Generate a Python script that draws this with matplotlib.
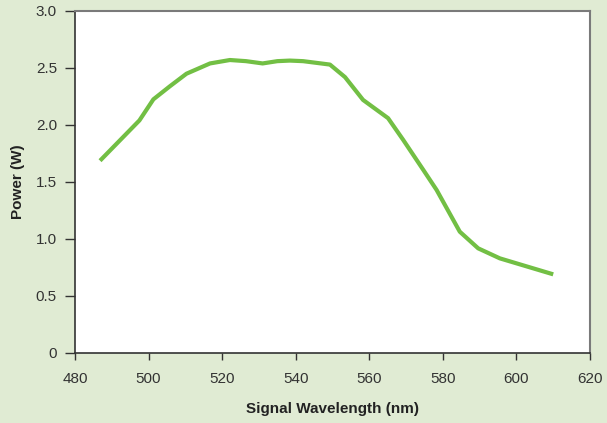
import numpy as np
import matplotlib.pyplot as plt
from matplotlib.ticker import FuncFormatter

# signal wavelength (nm) and output power (W)
wavelength = [486.8, 497.5, 501.3, 505.8, 510.3, 516.7, 522.1, 526.5, 531.0, 535.0,
              538.4, 542.0, 549.3, 553.4, 558.3, 565.1, 569.2, 574.7, 578.3,
              584.6, 589.6, 595.5, 610.0]
power = [1.687, 2.04, 2.225, 2.34, 2.45, 2.54, 2.57, 2.56, 2.54, 2.56,
         2.565, 2.56, 2.53, 2.42, 2.22, 2.06, 1.87, 1.605, 1.43,
         1.064, 0.918, 0.83, 0.69]

xticks = [480, 500, 520, 540, 560, 580, 600, 620]
yticks = [0, 0.5, 1.0, 1.5, 2.0, 2.5, 3.0]

plt.rcParams['font.family'] = ['Liberation Sans Narrow', 'Liberation Sans', 'DejaVu Sans']

bg = '#e0ebd3'
fig = plt.figure(figsize=(6.07, 4.23), dpi=100, facecolor=bg)
ax = fig.add_axes([0.1236, 0.1655, 0.8484, 0.8085])
ax.set_facecolor('white')

ax.plot(wavelength, power, color='#72bf44', linewidth=3.0, solid_capstyle='butt')

ax.set_xlim(480, 620)
ax.set_ylim(0, 3.0)
ax.set_xticks(xticks)
ax.set_yticks(yticks)
ax.yaxis.set_major_formatter(FuncFormatter(lambda v, p: '0' if v == 0 else '%.1f' % v))

for s in ['left', 'bottom']:
    ax.spines[s].set_color('#333333')
    ax.spines[s].set_linewidth(1.2)
for s in ['top', 'right']:
    ax.spines[s].set_color('#7a7a7a')
    ax.spines[s].set_linewidth(1.5)

ax.tick_params(axis='both', colors='#333333', labelcolor='#333333', labelsize=11)
ax.tick_params(axis='x', length=5, width=1, pad=9)
ax.tick_params(axis='y', length=7, width=1, pad=6)

ax.set_xlabel('Signal Wavelength (nm)', fontsize=11, fontweight='bold', color='#222222', labelpad=11)
ax.set_ylabel('Power (W)', fontsize=11, fontweight='bold', color='#222222', labelpad=8)

fig.savefig('out.png', dpi=100, facecolor=bg)
